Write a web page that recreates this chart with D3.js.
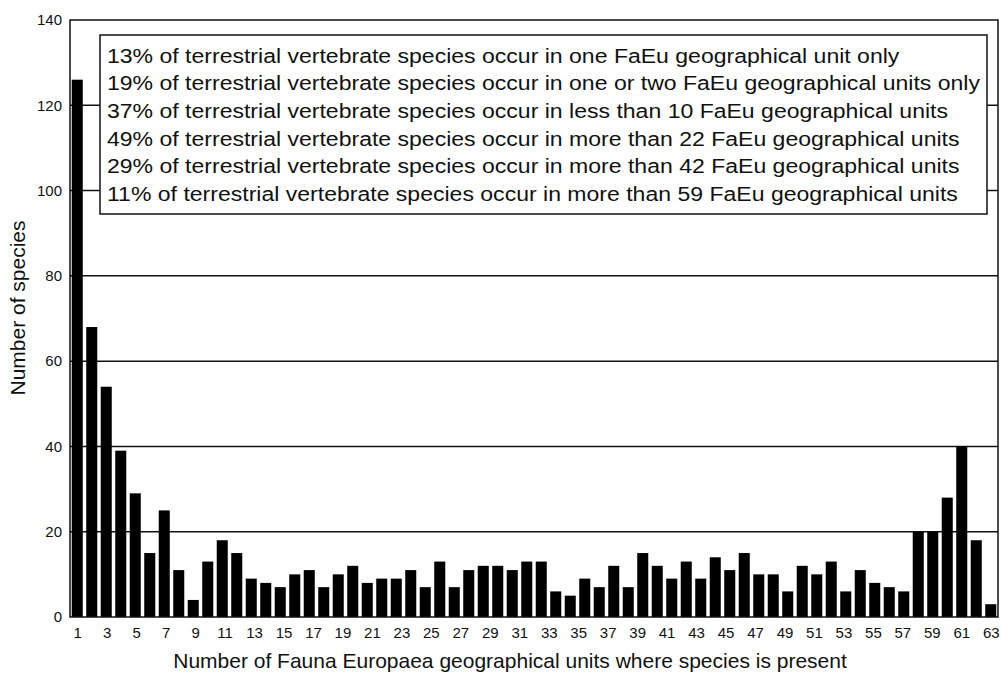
<!DOCTYPE html>
<html>
<head>
<meta charset="utf-8">
<script src="https://cdn.jsdelivr.net/npm/d3@7"></script>
<style>
  html, body { margin: 0; padding: 0; background: #fff; }
  svg text { font-family: 'Liberation Sans', Arial, Helvetica, sans-serif; fill: #111; }
</style>
</head>
<body>
<div id="chart"></div>
<script>
// species counts per number of FaEu units
const counts = [
  126, 68, 54, 39, 29, 15, 25, 11, 4, 13, 18, 15, 9, 8, 7, 10,
  11, 7, 10, 12, 8, 9, 9, 11, 7, 13, 7, 11, 12, 12, 11, 13,
  13, 6, 5, 9, 7, 12, 7, 15, 12, 9, 13, 9, 14, 11, 15, 10,
  10, 6, 12, 10, 13, 6, 11, 8, 7, 6, 20, 20, 28, 40, 18, 3
]
const units = counts.map((d, i) => i + 1)

const xTickLabels = [1, 3, 5, 7, 9, 11, 13, 15, 17, 19, 21, 23, 25, 27, 29, 31,
  33, 35, 37, 39, 41, 43, 45, 47, 49, 51, 53, 55, 57, 59, 61, 63]
const yTicks = [0, 20, 40, 60, 80, 100, 120, 140]
const gridValues = [20, 40, 60, 80, 100, 120]

const notes = [
  '13% of terrestrial vertebrate species occur in one FaEu geographical unit only',
  '19% of terrestrial vertebrate species occur in one or two FaEu geographical units only',
  '37% of terrestrial vertebrate species occur in less than 10 FaEu geographical units',
  '49% of terrestrial vertebrate species occur in more than 22 FaEu geographical units',
  '29% of terrestrial vertebrate species occur in more than 42 FaEu geographical units',
  '11% of terrestrial vertebrate species occur in more than 59 FaEu geographical units'
]

const width = 1001
const height = 674
const margin = { top: 20, left: 70, right: 3, bottom: 57 }

const svg = d3
  .select('#chart')
  .append('svg')
  .attr('width', width)
  .attr('height', height)

const x = d3
  .scaleBand()
  .domain(units)
  .range([margin.left, width - margin.right])
  .paddingInner(0.24)
  .paddingOuter(0.12)

// tick labels are spread from the first bar to the last one
const xLabel = d3
  .scaleLinear()
  .domain([1, 63])
  .range([x(1) + x.bandwidth() / 2, x(64) + x.bandwidth() / 2])

const y = d3
  .scaleLinear()
  .domain([0, 140])
  .range([height - margin.bottom, margin.top])

// grid lines
svg
  .selectAll('.grid')
  .data(gridValues)
  .enter()
  .append('line')
  .attr('class', 'grid')
  .attr('x1', margin.left)
  .attr('x2', width - margin.right)
  .attr('y1', d => y(d))
  .attr('y2', d => y(d))
  .attr('stroke', '#111')
  .attr('stroke-width', 1.5)

// bars
svg
  .selectAll('.bar')
  .data(counts)
  .enter()
  .append('rect')
  .attr('class', 'bar')
  .attr('x', (d, i) => x(units[i]))
  .attr('width', x.bandwidth())
  .attr('y', d => y(d))
  .attr('height', d => y(0) - y(d))
  .attr('fill', '#000')

// frame
svg
  .append('rect')
  .attr('x', margin.left)
  .attr('y', margin.top)
  .attr('width', width - margin.right - margin.left)
  .attr('height', y(0) - margin.top)
  .attr('fill', 'none')
  .attr('stroke', '#111')
  .attr('stroke-width', 1.5)

// y axis
const yAxis = svg
  .append('g')
  .attr('transform', `translate(${margin.left},0)`)
  .call(d3.axisLeft(y).tickValues(yTicks).tickSize(0).tickPadding(8))
yAxis.select('.domain').remove()
yAxis.selectAll('text').style('font-size', '15px').attr('fill', '#111')

// x axis labels
const xAxis = svg
  .append('g')
  .attr('transform', `translate(0,${y(0)})`)
  .call(d3.axisBottom(xLabel).tickValues(xTickLabels).tickSize(0).tickPadding(10))
xAxis.select('.domain').remove()
xAxis.selectAll('text').style('font-size', '15px').attr('fill', '#111')

// axis titles
svg
  .append('text')
  .attr('x', 510)
  .attr('y', 668)
  .attr('text-anchor', 'middle')
  .style('font-size', '21px')
  .text('Number of Fauna Europaea geographical units where species is present')

svg
  .append('text')
  .attr('transform', 'translate(25,308) rotate(-90)')
  .attr('text-anchor', 'middle')
  .style('font-size', '21px')
  .text('Number of species')

// note box
svg
  .append('rect')
  .attr('x', 100)
  .attr('y', 35)
  .attr('width', 887)
  .attr('height', 179)
  .attr('fill', '#fff')
  .attr('stroke', '#111')
  .attr('stroke-width', 1.5)

const noteText = svg
  .selectAll('.note')
  .data(notes)
  .enter()
  .append('text')
  .attr('class', 'note')
  .attr('x', 107)
  .attr('y', (d, i) => 62.5 + i * 27.7)
  .style('font-size', '20px')
  .text(d => d)

// the printed text is a little wider than the font: stretch so the longest line fits
const stretch = 873 / noteText.nodes()[1].getComputedTextLength()
noteText.each(function() {
  const len = this.getComputedTextLength()
  d3.select(this)
    .attr('textLength', len * stretch)
    .attr('lengthAdjust', 'spacingAndGlyphs')
})
</script>
</body>
</html>
